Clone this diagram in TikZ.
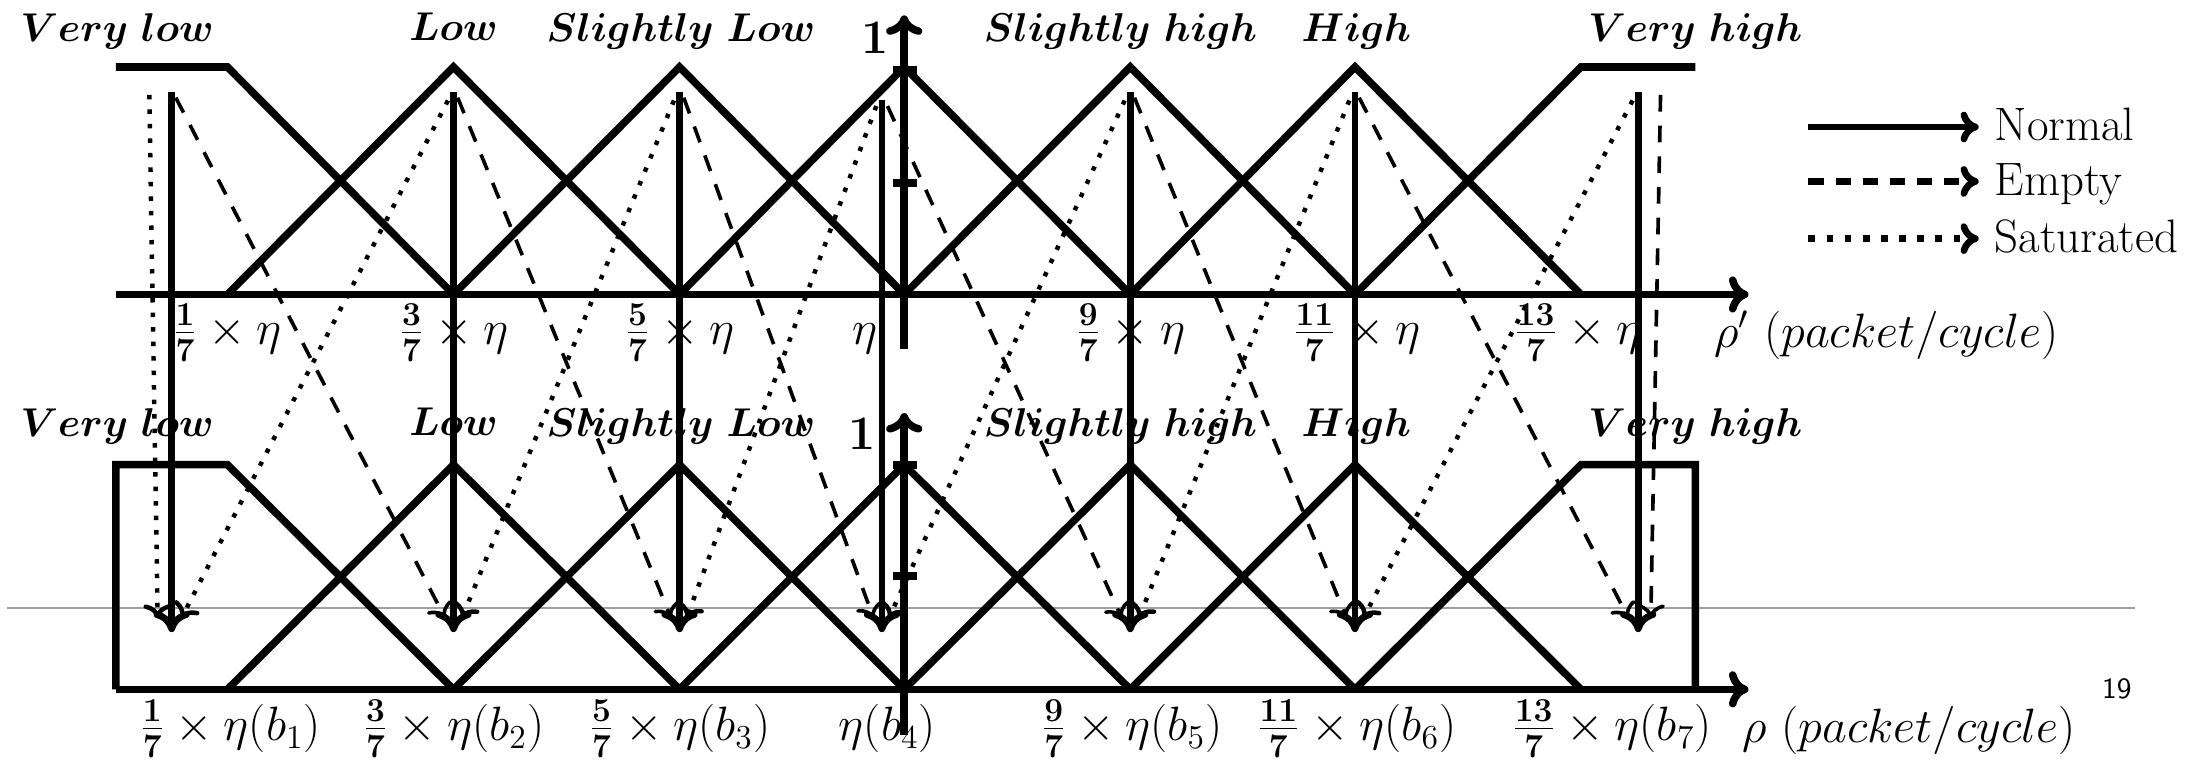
\documentclass[tikz,border=0pt]{standalone}
\usetikzlibrary{arrows.meta}
\begin{document}
\begin{tikzpicture}[x=0.5pt,y=-0.5pt,
  mf/.style={line width=2.7pt,line join=miter},
  ax/.style={line width=2.7pt,-{Computer Modern Rightarrow[length=7pt,width=13pt]}},
  tick/.style={line width=2.8pt},
  normarr/.style={line width=2.4pt,-{Computer Modern Rightarrow[length=7.5pt,width=13pt]}},
  emptyarr/.style={line width=1.3pt,dash pattern=on 6pt off 5pt,-{Computer Modern Rightarrow[length=5pt,width=10pt]}},
  satarr/.style={line width=1.6pt,dash pattern=on 1.6pt off 3.6pt,-{Computer Modern Rightarrow[length=5pt,width=10pt]}},
  legn/.style={line width=2.4pt,-{Computer Modern Rightarrow[length=6.5pt,width=11pt]}},
  lege/.style={line width=2.4pt,dash pattern=on 5.4pt off 4.3pt,-{Computer Modern Rightarrow[length=6.5pt,width=11pt]}},
  legs/.style={line width=2.4pt,dash pattern=on 2.4pt off 4.1pt,-{Computer Modern Rightarrow[length=6.5pt,width=11pt]}},
  mname/.style={font=\fontsize{15.6}{18}\selectfont\boldmath,anchor=base,inner sep=0pt},
  xl/.style={font=\fontsize{18}{21}\selectfont,anchor=base,inner sep=0pt},
  one/.style={font=\fontsize{17}{20}\selectfont,anchor=base,inner sep=0pt},
  legtxt/.style={font=\fontsize{16.8}{20}\selectfont,anchor=base west,inner sep=0pt}
]
\useasboundingbox (0,0) rectangle (1568,547);

% thin gray line
\coordinate (g1) at (5,436);
\coordinate (g2) at (1530,436);
\draw[gray!75,line width=0.7pt] (g1) -- (g2);

% ---------- top membership functions ----------
\draw[mf] (83,48) -- (163,48) -- (325,211);
\draw[mf] (163,211) -- (325,48) -- (487,211);
\draw[mf] (325,211) -- (487,48) -- (648,211);
\draw[mf] (487,211) -- (648,48) -- (810,211);
\draw[mf] (648,211) -- (810,48) -- (971,211);
\draw[mf] (810,211) -- (971,48) -- (1133,211);
\draw[mf] (971,211) -- (1133,48) -- (1215,48);

% ---------- bottom membership functions ----------
\draw[mf] (83,494) -- (83,333) -- (163,333) -- (325,494);
\draw[mf] (163,494) -- (325,333) -- (487,494);
\draw[mf] (325,494) -- (487,333) -- (648,494);
\draw[mf] (487,494) -- (648,333) -- (810,494);
\draw[mf] (648,494) -- (810,333) -- (971,494);
\draw[mf] (810,494) -- (971,333) -- (1133,494);
\draw[mf] (971,494) -- (1133,333) -- (1215,333) -- (1215,494);

% ---------- axes ----------
\coordinate (xa0) at (83,211);  \coordinate (xa1) at (1253,211);
\coordinate (ya0) at (648,250); \coordinate (ya1) at (648,11);
\coordinate (xb0) at (83,494);  \coordinate (xb1) at (1253,494);
\coordinate (yb0) at (648,527); \coordinate (yb1) at (648,296);
\draw[ax] (xa0) -- (xa1);
\draw[ax] (ya0) -- (ya1);
\draw[ax] (xb0) -- (xb1);
\draw[ax] (yb0) -- (yb1);
\draw[tick] (640,50) -- (657,50);
\draw[tick] (640,131) -- (657,131);
\draw[tick] (640,333) -- (657,333);
\draw[tick] (640,413) -- (657,413);

% ---------- arrow end points ----------
\coordinate (t1) at (123,66);  \coordinate (b1) at (123,453);
\coordinate (t2) at (325,66);  \coordinate (b2) at (325,453);
\coordinate (t3) at (487,66);  \coordinate (b3) at (487,453);
\coordinate (t4) at (632,72);  \coordinate (b4) at (632,453);
\coordinate (t5) at (810,66);  \coordinate (b5) at (810,453);
\coordinate (t6) at (971,66);  \coordinate (b6) at (971,453);
\coordinate (t7) at (1174,66); \coordinate (b7) at (1174,453);

% dashed (Empty) start / end
\coordinate (e1s) at (126,70);  \coordinate (e1e) at (319,443);
\coordinate (e2s) at (328,70);  \coordinate (e2e) at (481,443);
\coordinate (e3s) at (490,70);  \coordinate (e3e) at (626,443);
\coordinate (e4s) at (636,76);  \coordinate (e4e) at (804,443);
\coordinate (e5s) at (813,70);  \coordinate (e5e) at (965,443);
\coordinate (e6s) at (974,70);  \coordinate (e6e) at (1167,443);
\coordinate (e7s) at (1190,68); \coordinate (e7e) at (1183,443);

% dotted (Saturated) start / end
\coordinate (s1s) at (107,68);  \coordinate (s1e) at (113,443);
\coordinate (s2s) at (321,72);  \coordinate (s2e) at (130,443);
\coordinate (s3s) at (483,72);  \coordinate (s3e) at (331,443);
\coordinate (s4s) at (628,76);  \coordinate (s4e) at (492,443);
\coordinate (s5s) at (806,72);  \coordinate (s5e) at (637,443);
\coordinate (s6s) at (967,72);  \coordinate (s6e) at (816,443);
\coordinate (s7s) at (1170,72); \coordinate (s7e) at (977,443);

\foreach \i in {1,...,7} {
  \draw[satarr] (s\i s) -- (s\i e);
  \draw[emptyarr] (e\i s) -- (e\i e);
  \draw[normarr] (t\i) -- (b\i);
}

% ---------- membership names ----------
\node[mname] (tvl) at (84,30) {$Very\ low$};
\node[mname] (tl) at (325,29) {$Low$};
\node[mname] (tsl) at (488,30) {$Slightly\ Low$};
\node[mname] (tsh) at (803,30) {$Slightly\ high$};
\node[mname] (th) at (972,30) {$High$};
\node[mname] (tvh) at (1215,30) {$Very\ high$};

\node[mname] (bvl) at (84,313) {$Very\ low$};
\node[mname] (bl) at (325,312) {$Low$};
\node[mname] (bsl) at (488,313) {$Slightly\ Low$};
\node[mname] (bsh) at (803,313) {$Slightly\ high$};
\node[mname] (bh) at (972,313) {$High$};
\node[mname] (bvh) at (1215,313) {$Very\ high$};

\node[one] (one1) at (627,38) {$\mathbf{1}$};
\node[one] (one2) at (618,322) {$\mathbf{1}$};

% ---------- top axis labels ----------
\node[xl,anchor=base west] (xa1l) at (123,247) {$\frac{\mathbf{1}}{\mathbf{7}}\times\eta$};
\node[xl] (xa3l) at (325,247) {$\frac{\mathbf{3}}{\mathbf{7}}\times\eta$};
\node[xl] (xa5l) at (487,247) {$\frac{\mathbf{5}}{\mathbf{7}}\times\eta$};
\node[xl,anchor=base east] (xa7l) at (629,247) {$\eta$};
\node[xl] (xa9l) at (810,247) {$\frac{\mathbf{9}}{\mathbf{7}}\times\eta$};
\node[xl] (xa11l) at (972,247) {$\frac{\mathbf{11}}{\mathbf{7}}\times\eta$};
\node[xl,anchor=base east] (xa13l) at (1177,247) {$\frac{\mathbf{13}}{\mathbf{7}}\times\eta$};
\node[xl,anchor=base west] (rhop) at (1228,249) {$\rho'\ (packet/cycle)$};

% ---------- bottom axis labels ----------
\node[xl] (xb1l) at (165,531) {$\frac{\mathbf{1}}{\mathbf{7}}\times\eta(b_1)$};
\node[xl] (xb3l) at (325,531) {$\frac{\mathbf{3}}{\mathbf{7}}\times\eta(b_2)$};
\node[xl] (xb5l) at (487,531) {$\frac{\mathbf{5}}{\mathbf{7}}\times\eta(b_3)$};
\node[xl] (xb7l) at (636,531) {$\eta(b_4)$};
\node[xl] (xb9l) at (811,531) {$\frac{\mathbf{9}}{\mathbf{7}}\times\eta(b_5)$};
\node[xl] (xb11l) at (972,531) {$\frac{\mathbf{11}}{\mathbf{7}}\times\eta(b_6)$};
\node[xl] (xb13l) at (1155,531) {$\frac{\mathbf{13}}{\mathbf{7}}\times\eta(b_7)$};
\node[xl,anchor=base west] (rho) at (1248,532) {$\rho\ (packet/cycle)$};

% ---------- legend ----------
\coordinate (ln0) at (1296,91);  \coordinate (ln1) at (1418,91);
\coordinate (le0) at (1296,130); \coordinate (le1) at (1418,130);
\coordinate (ls0) at (1296,171); \coordinate (ls1) at (1418,171);
\draw[legn] (ln0) -- (ln1);
\draw[lege] (le0) -- (le1);
\draw[legs] (ls0) -- (ls1);
\node[legtxt] (lnt) at (1429,101) {Normal};
\node[legtxt] (let) at (1429,140) {Empty};
\node[legtxt] (lst) at (1429,181) {Saturated};

% page number
\node[font=\sffamily\fontsize{10.5}{12}\selectfont,inner sep=0pt] (pg) at (1517,494) {19};
\end{tikzpicture}
\end{document}
